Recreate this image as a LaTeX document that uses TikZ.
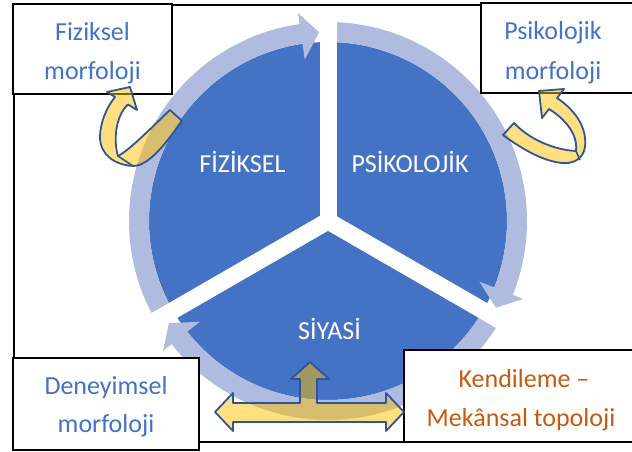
\documentclass[tikz,border=0pt]{standalone}
\usepackage{fontspec}
\setmainfont{Carlito}
\definecolor{discblue}{HTML}{4472C4}
\definecolor{ringc}{HTML}{B0BCDF}
\definecolor{txtblue}{HTML}{4472C4}
\definecolor{txtorange}{HTML}{C55A11}
\definecolor{yel}{HTML}{FFC000}
\definecolor{yline}{HTML}{2F5597}
\newcommand\ringarr[2]{%
  \pgfmathsetmacro\ab{#2+5.5}%
  \fill[ringc] (#1:199) arc[start angle=#1, end angle=\ab, radius=199]
    -- (\ab:210) -- (#2:189) -- (\ab:163) -- (\ab:179)
    arc[start angle=\ab, end angle=#1, radius=179] -- cycle;}
\begin{document}
\begin{tikzpicture}[x=1pt,y=1pt,
  boxstyle/.style={draw=black, line width=1.2pt, fill=white, rectangle, inner sep=0pt},
  btext/.style={anchor=base, font=\fontsize{26}{30}\selectfont, inner sep=0pt},
  pielabel/.style={anchor=base, text=white, font=\fontsize{26}{30}\selectfont, inner sep=0pt},
  gapline/.style={draw=white, line width=17pt},
  yarrow/.style={fill=yel, fill opacity=0.5, draw=yline, line width=1.8pt, line join=round}]
\useasboundingbox (0,0) rectangle (632,452);
% frame
\draw[line width=1.4pt] (14,10) rectangle (660,447);
% pie
\coordinate (C) at (328,231);
\fill[discblue] (C) circle[radius=179];
\begin{scope}[shift={(C)}]
  \ringarr{210}{92.7}
  \ringarr{90}{-27.3}
  \ringarr{-30}{-147.3}
  \draw[gapline] (0,0) -- (90:212);
  \draw[gapline] (0,0) -- (210:212);
  \draw[gapline] (0,0) -- (330:212);
  \fill[white] (0,0) circle[radius=9];
\end{scope}
% pie labels
\node[pielabel] (lfiz) at (242.5,279) {FİZİKSEL};
\node[pielabel] (lpsi) at (410,279) {PSİKOLOJİK};
\node[pielabel] (lsiy) at (329.5,112) {SİYASİ};
% boxes
\node[boxstyle, minimum width=159, minimum height=90] (bfiz) at (92.5,403) {};
\node[boxstyle, minimum width=184, minimum height=90] (bpsi) at (573,404) {};
\node[boxstyle, minimum width=186, minimum height=92] (bden) at (106,48) {};
\node[boxstyle, minimum width=261, minimum height=92] (bken) at (534.5,56) {};
\node[btext, text=txtblue] (tfizA) at (92.5,411.3) {Fiziksel};
\node[btext, text=txtblue] (tfizB) at (92.5,372.7) {morfoloji};
\node[btext, text=txtblue] (tpsiA) at (553,412) {Psikolojik};
\node[btext, text=txtblue] (tpsiB) at (553,372) {morfoloji};
\node[btext, text=txtblue] (tdenA) at (106,57) {Deneyimsel};
\node[btext, text=txtblue] (tdenB) at (106,19) {morfoloji};
\node[btext, text=txtorange] (tkenA) at (524,64) {Kendileme –};
\node[btext, text=txtorange] (tkenB) at (521,25.3) {Mekânsal topoloji};
% curved arrow left
\draw[yarrow] (170,342) .. controls (155,328) and (130,302) .. (118,296)
  .. controls (113,312) and (116,337) .. (128,347.5)
  -- (137,342) -- (130,365) -- (107,360) -- (115,355)
  .. controls (106,344) and (100,328) .. (100,315)
  .. controls (100,297) and (115,287) .. (133,286)
  .. controls (150,286) and (168,312) .. (182,331) -- cycle;
\draw[yline, line width=1.6pt] (118,296) -- (133,286);
% curved arrow right
\draw[yarrow] (514,329) .. controls (530,312) and (555,302) .. (576,301)
  .. controls (578,318) and (565,333) .. (549,343)
  -- (542,334) -- (539,361) -- (564,363) -- (557,354)
  .. controls (578,340) and (587,322) .. (585,305)
  .. controls (583,291) and (570,288) .. (562,289)
  .. controls (540,291) and (515,308) .. (503,317) -- cycle;
\draw[yline, line width=1.6pt] (576,301) -- (580,292);
% T arrow
\draw[yarrow] (215,40) -- (233,59) -- (233,49) -- (300,49) -- (300,73) -- (291,73)
  -- (310,90) -- (329,73) -- (317,73) -- (317,49) -- (386,49) -- (386,59)
  -- (404,40) -- (386,21) -- (386,30) -- (233,30) -- (233,21) -- cycle;
\end{tikzpicture}
\end{document}
